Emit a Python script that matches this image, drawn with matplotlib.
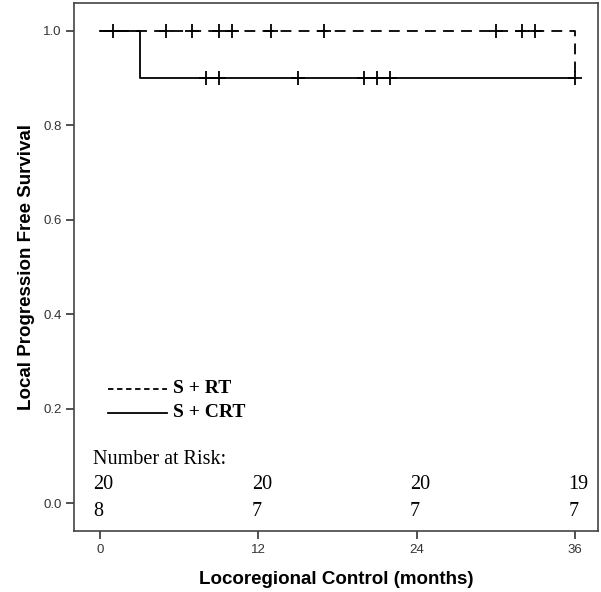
import matplotlib
matplotlib.use("Agg")
import matplotlib.pyplot as plt

# Data
rt_times = [0, 36]
rt_surv = [1.0, 0.9]
rt_cens_t = [1, 5, 7, 9, 10, 13, 17, 30, 32, 33]
rt_cens_s = [1.0] * len(rt_cens_t)

crt_times = [0, 3, 36]
crt_surv = [1.0, 0.9, 0.9]
crt_cens_t = [8, 9, 15, 20, 21, 22, 36]
crt_cens_s = [0.9] * len(crt_cens_t)

risk_times = [0, 12, 24, 36]
risk_rt = [20, 20, 20, 19]
risk_crt = [8, 7, 7, 7]

xticks = [0, 12, 24, 36]
yticks = [0.0, 0.2, 0.4, 0.6, 0.8, 1.0]

fig = plt.figure(figsize=(6.01, 5.92), dpi=100)
ax = fig.add_axes([0.1231, 0.1030, 0.8719, 0.8919])

lw = 1.3
ax.step(rt_times, rt_surv, where='post', color='black', lw=lw, ls=(0, (6, 4)))
ax.step(crt_times, crt_surv, where='post', color='black', lw=lw, ls='-')
ax.plot(rt_cens_t, rt_cens_s, ls='none', marker='+', ms=10, mew=1.3, color='black')
ax.plot(crt_cens_t, crt_cens_s, ls='none', marker='+', ms=10, mew=1.3, color='black')

ax.set_xlim(-1.97, 37.75)
ax.set_ylim(-0.059, 1.059)
ax.set_xticks(xticks)
ax.set_xticklabels([str(t) for t in xticks])
ax.set_yticks(yticks)
ax.set_yticklabels([f"{v:.1f}" for v in yticks])
ax.tick_params(direction='out', length=6, width=1.2, labelsize=9.5, colors='#333333', pad=3)
for lbl in ax.get_xticklabels() + ax.get_yticklabels():
    lbl.set_family('Liberation Sans')
for s in ax.spines.values():
    s.set_color('#444444')
    s.set_linewidth(1.2)

ax.set_xlabel("Locoregional Control (months)", fontsize=13.5, fontweight='bold',
              family='Liberation Sans', labelpad=11)
ax.set_ylabel("Local Progression Free Survival", fontsize=13.5, fontweight='bold',
              family='Liberation Sans', labelpad=6)

# legend drawn manually
ax.plot([0.6, 5.1], [0.242, 0.242], color='black', lw=lw, ls=(0, (3, 2)))
ax.plot([0.6, 5.1], [0.191, 0.191], color='black', lw=lw, ls='-')
ax.text(5.5, 0.242, "S + RT", fontsize=14, fontweight='bold', family='Liberation Serif',
        va='center', ha='left')
ax.text(5.5, 0.191, "S + CRT", fontsize=14, fontweight='bold', family='Liberation Serif',
        va='center', ha='left')

# number at risk
ax.text(-0.5, 0.093, "Number at Risk:", fontsize=14.5, family='Liberation Serif',
        va='center', ha='left')
for t, a, b in zip(risk_times, risk_rt, risk_crt):
    ax.text(t - 0.5, 0.039, str(a), fontsize=14.5, family='Liberation Serif', va='center', ha='left')
    ax.text(t - 0.5, -0.018, str(b), fontsize=14.5, family='Liberation Serif', va='center', ha='left')

fig.savefig("out.png", dpi=100)
